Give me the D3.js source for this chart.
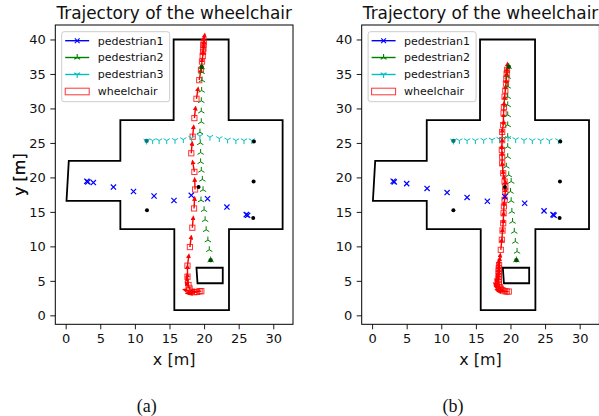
<!DOCTYPE html>
<html>
<head>
<meta charset="utf-8">
<script src="https://cdn.jsdelivr.net/npm/d3@7"></script>
<style>
  body { margin: 0; background: #fff; }
  svg { display: block; font-family: "DejaVu Sans", sans-serif; }
</style>
</head>
<body>
<div id="chart"></div>
<script>
// ---- data (metres) ----
const walls = [[15.7,0.75],[23.6,0.75],[23.6,12.5],[31.35,12.5],[31.35,28.3],[23.55,28.3],[23.55,40],
  [15.6,40],[15.6,28.3],[7.9,28.3],[7.9,22.4],[0.45,22.4],[0.12,16.6],[7.9,16.6],[7.9,12.5],[15.7,12.5]];
const obstacle = [[18.9,6.9],[22.7,6.9],[22.7,4.65],[19.05,4.65]];
const blackDots = [[11.75,15.25],[27.2,25.2],[27.15,19.4],[27.1,14.1],[19.2,18.6]];

// panel (a)
const ped1A = [[3.05,19.45],[3.2,19.35],[4.0,19.25],[6.9,18.6],[9.8,17.95],[12.77,17.3],[15.65,16.65],
  [18.15,17.4],[20.5,16.9],[23.3,15.7],[26.1,14.6],[26.3,14.5]];
const ped2A = [[20.95,8.0],[20.75,9.5],[20.55,10.9],[20.3,12.4],[20.15,13.85],[20.0,15.3],[19.55,16.7],
  [19.85,18.2],[19.75,19.7],[19.6,21.0],[19.5,22.25],[19.5,23.6],[19.45,25.0],[19.4,26.55],[19.6,28.05],
  [19.6,29.6],[19.6,31.1],[19.65,32.6],[19.7,34.1],[19.65,35.3],[19.65,36.0]];
const ped3A = [[11.7,25.3],[12.57,25.35],[13.5,25.35],[14.6,25.35],[15.8,25.4],[17.0,25.5],
  [18.2,25.7],[19.4,26.0],[20.85,25.85],[22.2,25.65],[23.4,25.45],[24.6,25.35],[25.77,25.35],[26.9,25.35]];
const chairA = [[19.6,3.5],[19.35,3.5],[19.0,3.4],[18.6,3.35],[18.2,3.45],[17.9,3.9],[17.75,4.4],[17.6,5.6],
  [17.6,7.2],[17.95,9.9],[18.3,12.7],[18.55,15.5],[18.7,18.25],[18.6,20.8],[18.15,23.5],[18.35,25.9],
  [18.6,28.6],[18.9,31.4],[19.3,34.1],[19.55,35.6],[19.7,36.8],[19.8,37.6],[19.85,38.2],[19.9,38.7],
  [19.9,39.2],[19.95,39.6]];

// panel (b)
const ped1B = [[3.05,19.45],[3.2,19.35],[5.0,19.1],[7.95,18.4],[10.84,17.8],[13.73,17.1],[16.66,16.55],
  [19.2,17.2],[22.05,16.25],[24.85,15.15],[26.15,14.6],[26.3,14.5]];
const ped2B = [[20.85,8.0],[20.95,9.25],[20.7,10.7],[20.55,12.15],[20.3,13.6],[20.2,15.05],
  [20.1,16.6],[20.0,17.95],[20.1,19.4],[19.75,20.35],[19.4,21.6],[19.6,23.0],[19.6,24.45],[19.6,25.9],
  [19.6,27.6],[19.6,29.05],[19.6,30.5],[19.6,31.7],[19.6,33.2],[19.6,34.6],[19.75,36.05]];
const ped3B = [[11.75,25.3],[12.62,25.35],[13.73,25.35],[14.93,25.35],[16.13,25.4],[17.34,25.45],
  [18.44,25.55],[19.65,25.7],[20.75,25.5],[21.96,25.4],[23.16,25.35],[24.37,25.35],[25.62,25.35],[26.92,25.35]];
const chairB = [[19.75,3.45],[19.45,3.45],[19.15,3.5],[18.85,3.65],[18.6,3.85],[18.45,4.1],[18.35,4.45],
  [18.3,4.8],[18.3,5.2],[18.3,5.6],[18.3,6.0],[18.3,6.4],[18.3,6.8],[18.35,7.3],[18.6,9.5],[18.75,10.95],
  [18.85,12.3],[18.95,13.35],[19.0,14.8],[19.05,15.8],[19.15,16.75],[19.25,17.95],[19.25,18.7],[19.15,19.4],
  [18.95,20.6],[18.8,22.05],[18.8,23.0],[18.75,24.0],[18.8,25.4],[18.8,26.6],[18.95,27.6],[19.0,29.3],
  [19.05,30.2],[19.15,31.7],[19.25,32.6],[19.35,33.6],[19.4,34.3],[19.45,35.0],[19.5,35.6]];

const xTicks = [0, 5, 10, 15, 20, 25, 30];
const yTicks = [0, 5, 10, 15, 20, 25, 30, 35, 40];
const legendNames = ["pedestrian1", "pedestrian2", "pedestrian3", "wheelchair"];
const captions = ["(a)", "(b)"];

// ---- layout ----
const W = 599, H = 416;
const plotW = 237.7, plotH = 299.3, plotTop = 25;
const lefts = [55.3, 361.7];

const svg = d3.select("#chart").append("svg")
  .attr("width", W).attr("height", H);

svg.append("defs").append("marker")
  .attr("id", "ahead")
  .attr("viewBox", "0 0 10 10")
  .attr("refX", 2).attr("refY", 5)
  .attr("markerUnits", "userSpaceOnUse")
  .attr("markerWidth", 5).attr("markerHeight", 5)
  .attr("orient", "auto")
  .append("path").attr("d", "M0,0 L10,5 L0,10 Z").attr("fill", "red");

const colors = { p1: "#0000ff", p2: "#008000", p3: "#00bfbf", chair: "red" };
const darks = { p2: "#004d00", p3: "#007a7a" };

function xMark(s) { return `M${-s},${-s}L${s},${s}M${-s},${s}L${s},${-s}`; }
function triUp(s) { return `M0,0L0,${-s}M0,0L${-0.866*s},${0.5*s}M0,0L${0.866*s},${0.5*s}`; }
function triDown(s) { return `M0,0L0,${s}M0,0L${-0.866*s},${-0.5*s}M0,0L${0.866*s},${-0.5*s}`; }

function drawPanel(left, ped1, ped2, ped3, chair, caption) {
  const x = d3.scaleLinear().domain([-1.5, 32.85]).range([0, plotW]);
  const y = d3.scaleLinear().domain([-1.3, 42.1]).range([plotH, 0]);

  const g = svg.append("g").attr("transform", `translate(${left},${plotTop})`);

  // axes
  const xa = g.append("g").attr("transform", `translate(0,${plotH})`)
    .call(d3.axisBottom(x).tickValues(xTicks).tickSize(5).tickPadding(4.5));
  const ya = g.append("g")
    .call(d3.axisLeft(y).tickValues(yTicks).tickSize(5).tickPadding(4.5));
  [xa, ya].forEach(a => {
    a.select(".domain").remove();
    a.selectAll("line").attr("stroke", "#000").attr("stroke-width", 0.9);
    a.selectAll("text").attr("font-size", 13).attr("fill", "#111")
      .attr("font-family", "DejaVu Sans");
  });

  // frame
  g.append("rect").attr("width", plotW).attr("height", plotH)
    .attr("fill", "none").attr("stroke", "#000").attr("stroke-width", 1);

  // walls
  const line = d3.line().x(d => x(d[0])).y(d => y(d[1]));
  g.append("path").attr("d", line(walls) + "Z")
    .attr("fill", "none").attr("stroke", "#000").attr("stroke-width", 1.8);
  g.append("path").attr("d", line(obstacle) + "Z")
    .attr("fill", "none").attr("stroke", "#000").attr("stroke-width", 1.8);

  // wheelchair squares + heading arrows (no arrow on the final pose)
  g.selectAll(".sq").data(chair).enter().append("rect")
    .attr("x", d => x(d[0]) - 2.6).attr("y", d => y(d[1]) - 2.6)
    .attr("width", 5.2).attr("height", 5.2)
    .attr("fill", "none").attr("stroke", "red").attr("stroke-opacity", 0.8).attr("stroke-width", 1);

  const arrows = chair.slice(0, -1).map((d, i) => {
    const b = chair[i + 1];
    const dx = b[0] - d[0], dy = b[1] - d[1];
    const n = Math.hypot(dx, dy) || 1;
    return [d, [d[0] + 1.25 * dx / n, d[1] + 1.25 * dy / n]];
  });
  g.selectAll(".arr").data(arrows).enter().append("line")
    .attr("x1", d => x(d[0][0])).attr("y1", d => y(d[0][1]))
    .attr("x2", d => x(d[1][0])).attr("y2", d => y(d[1][1]))
    .attr("stroke", "red").attr("stroke-width", 1.4)
    .attr("marker-end", "url(#ahead)");

  // pedestrians
  g.selectAll(".p2").data(ped2).enter().append("path")
    .attr("transform", d => `translate(${x(d[0])},${y(d[1])})`)
    .attr("d", triUp(3.6)).attr("fill", "none").attr("stroke", colors.p2).attr("stroke-width", 1);
  g.selectAll(".p3").data(ped3).enter().append("path")
    .attr("transform", d => `translate(${x(d[0])},${y(d[1])})`)
    .attr("d", triDown(3.6)).attr("fill", "none").attr("stroke", colors.p3).attr("stroke-width", 1);
  g.selectAll(".p1").data(ped1).enter().append("path")
    .attr("transform", d => `translate(${x(d[0])},${y(d[1])})`)
    .attr("d", xMark(2.6)).attr("fill", "none").attr("stroke", colors.p1).attr("stroke-width", 1.2);

  // start / end poses of pedestrians 2 and 3 (darker blobs)
  const ends = [[ped2[0], darks.p2], [ped2[ped2.length - 1], darks.p2], [ped3[0], darks.p3]];
  g.selectAll(".end").data(ends).enter().append("circle")
    .attr("cx", d => x(d[0][0])).attr("cy", d => y(d[0][1])).attr("r", 2.2)
    .attr("fill", d => d[1]);

  // black dots
  g.selectAll(".dot").data(blackDots).enter().append("circle")
    .attr("cx", d => x(d[0])).attr("cy", d => y(d[1])).attr("r", 2).attr("fill", "#000");

  // title & labels
  g.append("text").attr("x", plotW / 2).attr("y", 18.5 - plotTop)
    .attr("text-anchor", "middle").attr("font-size", 16.9).attr("fill", "#111")
    .text("Trajectory of the wheelchair");
  g.append("text").attr("x", plotW / 2).attr("y", 365 - plotTop)
    .attr("text-anchor", "middle").attr("font-size", 16).attr("fill", "#111")
    .text("x [m]");
  g.append("text").attr("transform", `translate(${25 - left},${plotH / 2}) rotate(-90)`)
    .attr("text-anchor", "middle").attr("font-size", 16).attr("fill", "#111")
    .text("y [m]");
  g.append("text").attr("x", plotW / 2 - 27.5).attr("y", 411.5 - plotTop)
    .attr("text-anchor", "middle").attr("font-size", 18)
    .attr("font-family", "Liberation Serif, serif").attr("fill", "#111")
    .text(caption);

  // legend
  const lg = g.append("g").attr("transform", "translate(6.4,6.7)");
  lg.append("rect").attr("width", 108).attr("height", 70).attr("rx", 2.5)
    .attr("fill", "#fff").attr("fill-opacity", 0.8).attr("stroke", "#cccccc").attr("stroke-width", 1);
  const rows = [9, 25.8, 42.8, 59.8];
  const lcol = [colors.p1, colors.p2, colors.p3];
  const lmark = [xMark(2.4), triUp(3.4), triDown(3.4)];
  legendNames.forEach((name, i) => {
    const r = rows[i];
    if (i < 3) {
      lg.append("line").attr("x1", 3.5).attr("x2", 27.5).attr("y1", r).attr("y2", r)
        .attr("stroke", lcol[i]).attr("stroke-width", 1.4);
      lg.append("path").attr("transform", `translate(15.5,${r})`).attr("d", lmark[i])
        .attr("fill", "none").attr("stroke", lcol[i]).attr("stroke-width", 1.1);
    } else {
      lg.append("rect").attr("x", 3.5).attr("y", r - 3.3).attr("width", 24).attr("height", 6.6)
        .attr("fill", "none").attr("stroke", "red").attr("stroke-opacity", 0.8).attr("stroke-width", 1);
    }
    lg.append("text").attr("x", 36).attr("y", r + 4).attr("font-size", 11).attr("fill", "#111")
      .text(name);
  });
}

drawPanel(lefts[0], ped1A, ped2A, ped3A, chairA, captions[0]);
drawPanel(lefts[1], ped1B, ped2B, ped3B, chairB, captions[1]);
</script>
</body>
</html>
